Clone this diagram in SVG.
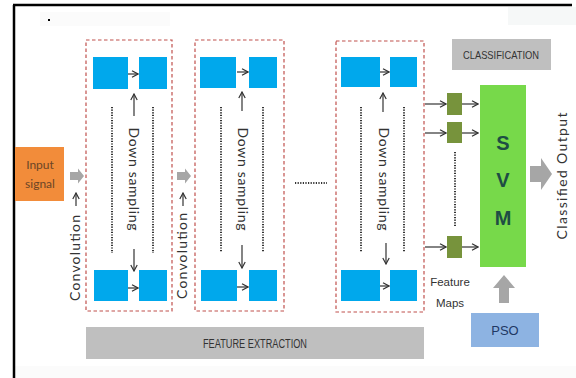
<svg xmlns="http://www.w3.org/2000/svg" width="576" height="378" viewBox="0 0 576 378">
<style>
.frame{stroke:#000;stroke-width:2.5;fill:none}
.dbox{fill:none;stroke:#c0504d;stroke-width:1.2;stroke-dasharray:3.5 2.5}
.sq{fill:#00a8ec}
.fm{fill:#77933c}
.dots{stroke:#333;stroke-width:2;stroke-dasharray:1.2 1.4;fill:none}
.arr{stroke:#333;stroke-width:1.2;fill:none;marker-end:url(#open)}
.garr{fill:#a6a6a6}
.lbl{font-family:Lato,"Liberation Sans",sans-serif;font-size:14px;fill:#333}
.cap{font-family:"Liberation Sans",sans-serif;font-size:11px;fill:#333}
.svm{font-family:"Liberation Sans",sans-serif;font-size:20px;font-weight:bold;fill:#1e4d44}
</style>
<defs>
<marker id="open" markerWidth="8" markerHeight="8" refX="7" refY="4" orient="auto" markerUnits="userSpaceOnUse">
<path d="M1,0.8 L7,4 L1,7.2" fill="none" stroke="#333" stroke-width="1.2"/>
</marker>
<path id="ba" d="M0,-4 H8 V-7.5 L14,0 L8,7.5 V4 H0 Z"/>
</defs>
<rect width="576" height="378" fill="#fff"/>
<rect x="40" y="12" width="130" height="14" fill="#fbfbfb"/>
<rect x="508" y="7" width="68" height="18" fill="#f6f8f8"/>
<rect x="15" y="366" width="561" height="12" fill="#fbfbfb"/>
<line class="frame" x1="13" y1="5" x2="572" y2="5"/>
<line class="frame" x1="14" y1="5" x2="14" y2="378"/>
<rect x="48" y="19" width="2" height="2" fill="#000"/>

<g id="input-signal">
<rect x="15" y="147" width="49" height="54" fill="#f28c3a"/>
<text class="lbl" x="40" y="169" text-anchor="middle" style="fill:#6b4526;font-size:12px">Input</text>
<text class="lbl" x="40" y="188" text-anchor="middle" style="fill:#6b4526;font-size:12px">signal</text>
</g>

<g id="block1">
<rect class="dbox" x="86" y="40" width="86" height="271"/>
<rect class="sq" x="93" y="57" width="35" height="32"/>
<rect class="sq" x="139" y="57" width="28" height="32"/>
<rect class="sq" x="94" y="270" width="34" height="31"/>
<rect class="sq" x="139" y="270" width="28" height="31"/>
<line class="dots" x1="112" y1="107" x2="112" y2="253"/>
<line class="dots" x1="153" y1="107" x2="153" y2="253"/>
<text class="lbl" transform="translate(129,179) rotate(90)" text-anchor="middle" textLength="103" lengthAdjust="spacing">Down sampling</text>
</g>

<g id="block2">
<rect class="dbox" x="195" y="40" width="89" height="271"/>
<rect class="sq" x="200" y="57" width="36" height="31"/>
<rect class="sq" x="249" y="57" width="28" height="31"/>
<rect class="sq" x="201" y="270" width="36" height="31"/>
<rect class="sq" x="249" y="270" width="28" height="31"/>
<line class="dots" x1="221" y1="107" x2="221" y2="252"/>
<line class="dots" x1="263" y1="107" x2="263" y2="252"/>
<text class="lbl" transform="translate(238,179) rotate(90)" text-anchor="middle" textLength="103" lengthAdjust="spacing">Down sampling</text>
</g>

<g id="block3">
<rect class="dbox" x="336" y="41" width="88" height="271"/>
<rect class="sq" x="341" y="57" width="39" height="30"/>
<rect class="sq" x="390" y="57" width="27" height="30"/>
<rect class="sq" x="341" y="270" width="39" height="31"/>
<rect class="sq" x="390" y="270" width="27" height="31"/>
<line class="dots" x1="361" y1="107" x2="361" y2="252"/>
<line class="dots" x1="404" y1="107" x2="404" y2="252"/>
<text class="lbl" transform="translate(379,179) rotate(90)" text-anchor="middle" textLength="103" lengthAdjust="spacing">Down sampling</text>
</g>

<g id="ellipsis">
<line class="dots" x1="295" y1="183" x2="327" y2="183"/>
</g>

<g id="conv1">
<text class="lbl" transform="translate(80,258) rotate(-90)" text-anchor="middle" textLength="86" lengthAdjust="spacing">Convolution</text>
</g>
<g id="conv2">
<text class="lbl" transform="translate(187,256) rotate(-90)" text-anchor="middle" textLength="86" lengthAdjust="spacing">Convolution</text>
</g>

<g id="feature-maps">
<rect class="fm" x="447" y="93" width="15" height="22"/>
<rect class="fm" x="447" y="122" width="15" height="21"/>
<rect class="fm" x="447" y="236" width="15" height="22"/>
<line class="dots" x1="455" y1="152" x2="455" y2="227"/>
<text class="cap" x="450" y="286" text-anchor="middle" style="font-size:11.5px">Feature</text>
<text class="cap" x="450" y="307" text-anchor="middle" style="font-size:11.5px">Maps</text>
</g>

<g id="svm">
<rect x="480" y="85" width="46" height="182" fill="#77d94a"/>
<text class="svm" x="503" y="150" text-anchor="middle">S</text>
<text class="svm" x="503" y="187" text-anchor="middle">V</text>
<text class="svm" x="503" y="225" text-anchor="middle">M</text>
</g>

<g id="classification">
<rect x="452" y="39" width="99" height="31" fill="#bfbfbf"/>
<text class="cap" x="501" y="59" text-anchor="middle" textLength="76" lengthAdjust="spacingAndGlyphs">CLASSIFICATION</text>
</g>

<g id="feature-extraction">
<rect x="86" y="327" width="338" height="32" fill="#bfbfbf"/>
<text class="cap" x="255" y="348" text-anchor="middle" style="font-size:12px" textLength="104" lengthAdjust="spacingAndGlyphs">FEATURE EXTRACTION</text>
</g>

<g id="pso">
<rect x="471" y="313" width="68" height="34" fill="#8db3e2"/>
<text x="505" y="335" text-anchor="middle" style="font-family:'Liberation Sans',sans-serif;font-size:13px;fill:#1f3864">PSO</text>
</g>

<g id="output">
<text class="lbl" transform="translate(567,176) rotate(-90)" text-anchor="middle" textLength="127" lengthAdjust="spacing" style="font-size:14px">Classified Output</text>
</g>

<g id="connectors">
<use href="#ba" class="garr" transform="translate(70,176)"/>
<use href="#ba" class="garr" transform="translate(177,176)"/>
<path class="garr" d="M530,166 H541 V158 L552,174 L541,190 V182 H530 Z"/>
<path class="garr" d="M504,275 L515,288 H509 V303 H499 V288 H493 Z"/>
<line class="arr" x1="76" y1="206" x2="76" y2="193"/>
<line class="arr" x1="183" y1="206" x2="183" y2="193"/>
<line class="arr" x1="128" y1="74" x2="138" y2="74"/>
<line class="arr" x1="134" y1="116" x2="134" y2="94"/>
<line class="arr" x1="134" y1="249" x2="134" y2="271"/>
<line class="arr" x1="128" y1="288" x2="138" y2="288"/>
<line class="arr" x1="237" y1="72" x2="248" y2="72"/>
<line class="arr" x1="242" y1="111" x2="242" y2="92"/>
<line class="arr" x1="242" y1="245" x2="242" y2="268"/>
<line class="arr" x1="237" y1="287" x2="248" y2="287"/>
<line class="arr" x1="380" y1="72" x2="389" y2="72"/>
<line class="arr" x1="383" y1="112" x2="383" y2="93"/>
<line class="arr" x1="386" y1="243" x2="386" y2="264"/>
<line class="arr" x1="380" y1="286" x2="389" y2="286"/>
<line class="arr" x1="425" y1="104" x2="446" y2="104"/>
<line class="arr" x1="425" y1="133" x2="446" y2="133"/>
<line class="arr" x1="425" y1="247" x2="446" y2="247"/>
<line class="arr" x1="462" y1="104" x2="478" y2="104"/>
<line class="arr" x1="462" y1="133" x2="478" y2="133"/>
<line class="arr" x1="462" y1="247" x2="478" y2="247"/>
</g>
</svg>
